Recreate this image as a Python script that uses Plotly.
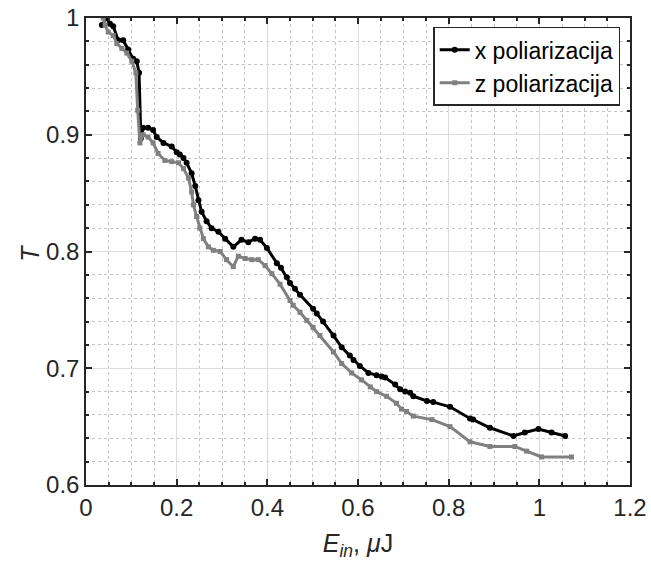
import plotly.graph_objects as go

# x polarization (black, circles)
x_black = [0.035, 0.046, 0.053, 0.060, 0.071, 0.082, 0.093, 0.104, 0.112, 0.117,
           0.121, 0.126, 0.137, 0.148, 0.156, 0.171, 0.189, 0.200, 0.207, 0.215,
           0.222, 0.233, 0.241, 0.248, 0.255, 0.266, 0.277, 0.292, 0.307, 0.325,
           0.343, 0.358, 0.373, 0.384, 0.399, 0.421, 0.430, 0.443, 0.450, 0.461,
           0.472, 0.501, 0.509, 0.523, 0.546, 0.564, 0.582, 0.590, 0.604, 0.623,
           0.641, 0.652, 0.660, 0.682, 0.693, 0.704, 0.715, 0.722, 0.752, 0.766,
           0.803, 0.847, 0.854, 0.891, 0.943, 0.968, 0.998, 1.027, 1.057]
y_black = [0.994, 1.000, 0.995, 0.993, 0.981, 0.981, 0.973, 0.965, 0.963, 0.953,
           0.897, 0.906, 0.906, 0.904, 0.898, 0.893, 0.890, 0.885, 0.883, 0.880,
           0.876, 0.867, 0.856, 0.844, 0.834, 0.826, 0.820, 0.817, 0.811, 0.804,
           0.810, 0.808, 0.811, 0.810, 0.803, 0.790, 0.786, 0.778, 0.773, 0.768,
           0.763, 0.751, 0.747, 0.740, 0.728, 0.718, 0.711, 0.707, 0.702, 0.696,
           0.694, 0.693, 0.692, 0.686, 0.682, 0.680, 0.679, 0.676, 0.672, 0.671,
           0.667, 0.657, 0.656, 0.649, 0.642, 0.645, 0.648, 0.645, 0.642]

# z polarization (gray, squares)
x_gray = [0.038, 0.042, 0.049, 0.060, 0.068, 0.079, 0.090, 0.101, 0.110, 0.114,
          0.119, 0.126, 0.137, 0.148, 0.159, 0.174, 0.189, 0.204, 0.215, 0.226,
          0.233, 0.237, 0.244, 0.251, 0.259, 0.270, 0.281, 0.296, 0.310, 0.325,
          0.336, 0.351, 0.366, 0.380, 0.395, 0.410, 0.428, 0.450, 0.457, 0.472,
          0.487, 0.501, 0.516, 0.546, 0.564, 0.586, 0.608, 0.627, 0.641, 0.663,
          0.685, 0.696, 0.707, 0.722, 0.763, 0.803, 0.847, 0.891, 0.946, 0.972,
          1.005, 1.071]
y_gray = [1.000, 0.994, 0.988, 0.985, 0.978, 0.974, 0.970, 0.963, 0.953, 0.921,
          0.893, 0.900, 0.898, 0.893, 0.884, 0.878, 0.877, 0.876, 0.871, 0.863,
          0.851, 0.840, 0.830, 0.820, 0.811, 0.804, 0.801, 0.800, 0.793, 0.787,
          0.796, 0.794, 0.793, 0.793, 0.788, 0.781, 0.772, 0.758, 0.754, 0.748,
          0.741, 0.735, 0.728, 0.714, 0.704, 0.696, 0.690, 0.684, 0.680, 0.676,
          0.670, 0.665, 0.663, 0.659, 0.656, 0.650, 0.637, 0.633, 0.633, 0.629,
          0.624, 0.624]

x_ticks = [0, 0.2, 0.4, 0.6, 0.8, 1, 1.2]
x_ticklabels = ["0", "0.2", "0.4", "0.6", "0.8", "1", "1.2"]
y_ticks = [0.6, 0.7, 0.8, 0.9, 1]
y_ticklabels = ["0.6", "0.7", "0.8", "0.9", "1"]

FONT = "Liberation Sans, Arial, sans-serif"
AX = "#262626"

fig = go.Figure()
fig.add_trace(go.Scatter(
    x=x_black, y=y_black, mode="lines+markers", name="x poliarizacija",
    line=dict(color="black", width=3),
    marker=dict(symbol="circle", size=6, color="black")))
fig.add_trace(go.Scatter(
    x=x_gray, y=y_gray, mode="lines+markers", name="z poliarizacija",
    line=dict(color="#808080", width=3),
    marker=dict(symbol="square", size=5, color="#808080")))

common = dict(
    showline=True, linecolor=AX, linewidth=1.5, mirror="ticks",
    ticks="inside", ticklen=6, tickcolor=AX, tickwidth=1.5,
    showgrid=True, gridcolor="#dcdcdc", gridwidth=1,
    zeroline=False, automargin=False,
    tickfont=dict(family=FONT, size=24, color=AX),
)

fig.update_xaxes(
    range=[0, 1.2], tickvals=x_ticks, ticktext=x_ticklabels,
    minor=dict(dtick=0.05, tick0=0, showgrid=True, gridcolor="#c4c4c4",
               griddash="dot", gridwidth=1, ticks="inside", ticklen=3,
               tickcolor=AX),
    title=dict(text="<i>E</i><sub><i>in</i></sub>, <i>μ</i>J",
               font=dict(family=FONT, size=25, color=AX)),
    **common)
fig.update_yaxes(
    range=[0.6, 1.0], tickvals=y_ticks, ticktext=y_ticklabels,
    minor=dict(dtick=0.02, tick0=0.6, showgrid=True, gridcolor="#c4c4c4",
               griddash="dot", gridwidth=1, ticks="inside", ticklen=3,
               tickcolor=AX),
    **common)

fig.add_annotation(
    text="<i>T</i>", xref="paper", yref="paper", x=-0.103, y=0.497,
    xanchor="center", yanchor="middle", textangle=-90, showarrow=False,
    font=dict(family=FONT, size=25, color=AX))

fig.update_layout(
    width=651, height=570,
    margin=dict(l=86, r=21, t=18, b=85),
    plot_bgcolor="white", paper_bgcolor="white",
    font=dict(family=FONT, color=AX),
    legend=dict(x=0.982, y=0.981, xanchor="right", yanchor="top",
                bgcolor="white", bordercolor=AX, borderwidth=1.5,
                font=dict(family=FONT, size=23, color="black"),
                tracegroupgap=0, itemwidth=30),
    showlegend=True,
)

fig.write_html("out.html")
